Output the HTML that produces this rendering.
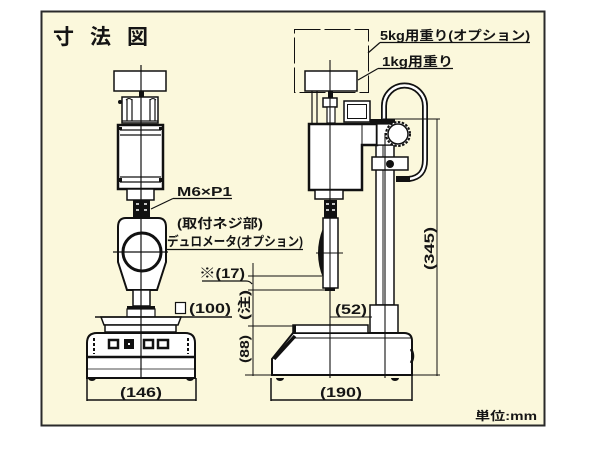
<!DOCTYPE html>
<html><head><meta charset="utf-8">
<style>
html,body{margin:0;padding:0;background:#fff;width:600px;height:450px;overflow:hidden}
svg{display:block}
text{font-family:"Liberation Sans","Noto Sans CJK JP",sans-serif;fill:#151515}
.b{font-weight:bold}
</style></head>
<body>
<svg width="600" height="450" viewBox="0 0 600 450" xmlns="http://www.w3.org/2000/svg">
<rect x="0" y="0" width="600" height="450" fill="#fff"/>
<rect x="41.5" y="11.5" width="503" height="414" fill="#fbf8dc" stroke="#2a2a2a" stroke-width="2"/>

<!-- title -->
<text x="53" y="44" font-size="21" font-weight="bold">寸</text>
<text x="90" y="44" font-size="21" font-weight="bold">法</text>
<text x="127" y="44" font-size="21" font-weight="bold">図</text>

<!-- ============ LEFT FRONT VIEW ============ -->
<g fill="#fff" stroke="#111">
  <rect x="114" y="71" width="52" height="20" stroke-width="1.5"/>
  <rect x="139" y="91" width="5" height="7" fill="#111" stroke="none"/>
  <rect x="122" y="97" width="36" height="26" stroke-width="1.5"/>
  <path d="M127 99V121M132 99V121M150 99V121M155 99V121M122 121H158" stroke-width="1.2" fill="none"/>
  <path d="M126 100Q129 97 132 100M150 100Q153 97 156 100" stroke-width="1" fill="none"/>
  <circle cx="120" cy="102" r="2" fill="#111" stroke="none"/>
  <rect x="118" y="125" width="45" height="64" stroke-width="2.5"/>
  <path d="M120 130H161M120 135H161M120 177H161M120 182H161" stroke-width="1.2" fill="none"/>
  <rect x="119" y="127" width="3" height="3" fill="#111" stroke="none"/>
  <rect x="159" y="127" width="3" height="3" fill="#111" stroke="none"/>
  <rect x="119" y="178" width="3" height="4" fill="#111" stroke="none"/>
  <rect x="159" y="178" width="3" height="4" fill="#111" stroke="none"/>
  <rect x="127" y="189" width="27" height="11" stroke-width="1.5"/>
  <rect x="133" y="200" width="17" height="18" fill="#111" stroke="none"/>
  <path d="M136 204h3M144 204h3M136 210h3M144 210h3" stroke="#fff" stroke-width="1.5" fill="none"/>
  <path d="M126 218H158Q166 218 166 227V262L157 290H127L118 262V227Q118 218 126 218Z" stroke-width="2"/>
  <circle cx="142" cy="252" r="19" stroke-width="3"/>
  <rect x="133" y="290" width="17" height="16" stroke-width="1.5"/>
  <rect x="127" y="306" width="28" height="3" fill="#111" stroke="none"/>
  <rect x="127" y="309" width="28" height="8" stroke-width="1.2"/>
  <path d="M101 317H181L178 325H104Z" stroke-width="1.5"/>
  <rect x="105" y="325" width="71" height="7" stroke-width="1.5"/>
  <path d="M87 378V343Q87 333 97 333H185Q195 333 195 343V378Z" stroke-width="2"/>
  <path d="M87 357H195" stroke-width="2.5" fill="none"/>
  <path d="M87 369H195" stroke-width="0.8" fill="none"/>
  <rect x="109" y="340" width="9" height="8" stroke-width="2.5"/>
  <rect x="124" y="339" width="10" height="10" fill="#111" stroke="none"/>
  <rect x="128" y="343" width="2" height="2" fill="#fff" stroke="none"/>
  <rect x="144" y="340" width="9" height="8" stroke-width="2.5"/>
  <rect x="158" y="340" width="10" height="8" stroke-width="2.5"/>
  <path d="M94 338V354M188 338V354" stroke-width="2" fill="none" stroke-dasharray="3 2"/>
  <path d="M88 378a4 3 0 0 0 8 0Z" fill="#111" stroke="none"/>
  <path d="M186 378a4 3 0 0 0 8 0Z" fill="#111" stroke="none"/>
</g>
<!-- left center line -->
<path d="M141 65V378M113 252H168" stroke="#111" stroke-width="1.2" fill="none"/>
<!-- table line / (100) underline -->
<path d="M95 317H232" stroke="#111" stroke-width="1.5" fill="none"/>
<rect x="175.5" y="302.5" width="10" height="11" fill="#fff" stroke="#111" stroke-width="1.2"/>
<!-- 146 dim -->
<path d="M87 378V401M196 378V401M87 400H196" stroke="#111" stroke-width="1.5" fill="none"/>

<!-- leaders -->
<path d="M173 198.5H232M173 198.5L151 209" stroke="#111" stroke-width="1.2" fill="none"/>
<path d="M167 249.5H303" stroke="#111" stroke-width="1.2" fill="none"/>
<path d="M202 281H246Q250 281 252 284" stroke="#111" stroke-width="1.2" fill="none"/>

<!-- ============ RIGHT SIDE VIEW ============ -->
<rect x="294.5" y="29.5" width="74" height="63" fill="none" stroke="#111" stroke-width="1" stroke-dasharray="26 4"/>
<path d="M380 42.5H530M380 42.5L368 53M378 68.5H453M378 68.5L358 80" stroke="#111" stroke-width="1.2" fill="none"/>
<!-- hose loop -->
<path d="M384 120V106A20.5 20.5 0 0 1 425 106V160Q425 177 409 179" stroke="#111" stroke-width="6" fill="none"/>
<path d="M384 120V106A20.5 20.5 0 0 1 425 106V160Q425 177 409 179" stroke="#fff" stroke-width="2.5" fill="none"/>
<g fill="#fff" stroke="#111">
  <rect x="305" y="71" width="52" height="20" stroke-width="1.5"/>
  <path d="M312 91V125M317 91V125" stroke-width="1.2" fill="none"/>
  <rect x="328" y="91" width="5" height="7" fill="#111" stroke="none"/>
  <rect x="323" y="98" width="14" height="9" stroke-width="1.5"/>
  <rect x="327" y="107" width="8" height="16" stroke-width="1.2"/>
  <rect x="344" y="101" width="26" height="21" stroke-width="1.5"/>
  <rect x="347.5" y="104.5" width="19" height="14" stroke-width="1"/>
  <!-- column -->
  <rect x="376" y="145" width="18" height="160" stroke-width="1.5"/>
  <path d="M383 145V305" stroke-width="1" fill="none"/>
  <!-- head -->
  <path d="M309 124H377V145H362V190H309Z" stroke-width="2.5"/>
  <path d="M362 145V125" stroke-width="1" fill="none"/>
  <rect x="370" y="119" width="25" height="5" fill="#111" stroke="none"/>
  <rect x="377" y="124" width="18" height="21" stroke-width="1.2"/>
  <circle cx="398" cy="134" r="12" stroke-width="2" stroke-dasharray="2.5 1.5"/>
  <circle cx="398" cy="134" r="10" stroke-width="1.5"/>
  <rect x="372" y="157" width="36" height="13" stroke-width="1.5"/>
  <circle cx="390" cy="164" r="4" fill="#111" stroke="none"/>
  <rect x="396" y="176" width="14" height="6" fill="#111" stroke="none"/>
  <rect x="315" y="190" width="28" height="9" stroke-width="1.5"/>
  <rect x="324" y="200" width="13" height="18" fill="#111" stroke="none"/>
  <path d="M326 204h3M332 204h3M326 210h3M332 210h3" stroke="#fff" stroke-width="1.5" fill="none"/>
  <!-- durometer side -->
  <rect x="323" y="218" width="15" height="70" stroke-width="1.5"/>
  <path d="M323 228Q313 253 323 278Z" fill="#111" stroke="none"/>
  <rect x="325" y="288" width="10" height="3" fill="#111" stroke="none"/>
  <!-- base -->
  <rect x="370" y="305" width="28" height="28" stroke-width="1.5"/>
  <path d="M272 375V359L293 333H404Q412 333 412 341V375Z" stroke-width="2"/>
  <path d="M293 338H412" stroke-width="1" fill="none"/>
  <path d="M295 336L274 359" stroke-width="3.5" fill="none"/>
  <rect x="293" y="325" width="75" height="8" stroke-width="1.5"/>
  <rect x="293" y="325" width="3" height="8" fill="#111" stroke="none"/>
  <path d="M276 378a4 3 0 0 0 8 0Z" fill="#111" stroke="none"/>
  <path d="M391 378a4 3 0 0 0 8 0Z" fill="#111" stroke="none"/>
  <path d="M411 349Q415 356 411 363" stroke-width="2.5" fill="none"/>
</g>
<!-- right center lines -->
<path d="M330 60V378M385 133V378M316 253H343" stroke="#111" stroke-width="1.1" fill="none"/>

<!-- vertical dims left of right view -->
<path d="M253 263V376M248 276H322M248 290H330M248 326H293M245 375H272" stroke="#111" stroke-width="1" fill="none"/>
<!-- 52 dim -->
<path d="M330 317H372" stroke="#111" stroke-width="1" fill="none"/>
<!-- 190 dim -->
<path d="M271 378V401M412 376V401M271 400H412" stroke="#111" stroke-width="1.5" fill="none"/>
<!-- 345 dim -->
<path d="M437 119V376M383 119H440M412 375H440" stroke="#111" stroke-width="1" fill="none"/>

<!-- labels -->
<text class="b" x="380" y="40" font-size="13" textLength="150" lengthAdjust="spacingAndGlyphs">5kg用重り(オプション)</text>
<text class="b" x="382" y="66" font-size="13" textLength="71" lengthAdjust="spacingAndGlyphs">1kg用重り</text>
<text class="b" x="177" y="196" font-size="13" textLength="55" lengthAdjust="spacingAndGlyphs">M6×P1</text>
<text class="b" x="177" y="228" font-size="13" textLength="86" lengthAdjust="spacingAndGlyphs">(取付ネジ部)</text>
<text class="b" x="167" y="246" font-size="13" textLength="136" lengthAdjust="spacingAndGlyphs">デュロメータ(オプション)</text>
<text class="b" x="199" y="278" font-size="14" textLength="46" lengthAdjust="spacingAndGlyphs">※(17)</text>
<text class="b" x="189" y="313" font-size="14" textLength="42" lengthAdjust="spacingAndGlyphs">(100)</text>
<text class="b" x="120" y="397" font-size="14" textLength="42" lengthAdjust="spacingAndGlyphs">(146)</text>
<text class="b" x="320" y="397" font-size="14" textLength="42" lengthAdjust="spacingAndGlyphs">(190)</text>
<text class="b" x="335" y="314" font-size="14" textLength="32" lengthAdjust="spacingAndGlyphs">(52)</text>
<text class="b" transform="translate(434 248.5) rotate(-90)" x="0" y="0" font-size="14" text-anchor="middle" textLength="43" lengthAdjust="spacingAndGlyphs">(345)</text>
<text class="b" transform="translate(249 305) rotate(-90)" x="0" y="0" font-size="13" text-anchor="middle" textLength="30" lengthAdjust="spacingAndGlyphs">(注)</text>
<text class="b" transform="translate(249 349) rotate(-90)" x="0" y="0" font-size="13" text-anchor="middle" textLength="28" lengthAdjust="spacingAndGlyphs">(88)</text>
<text class="b" x="475" y="420" font-size="12" textLength="62" lengthAdjust="spacingAndGlyphs">単位:mm</text>
</svg>
</body></html>
